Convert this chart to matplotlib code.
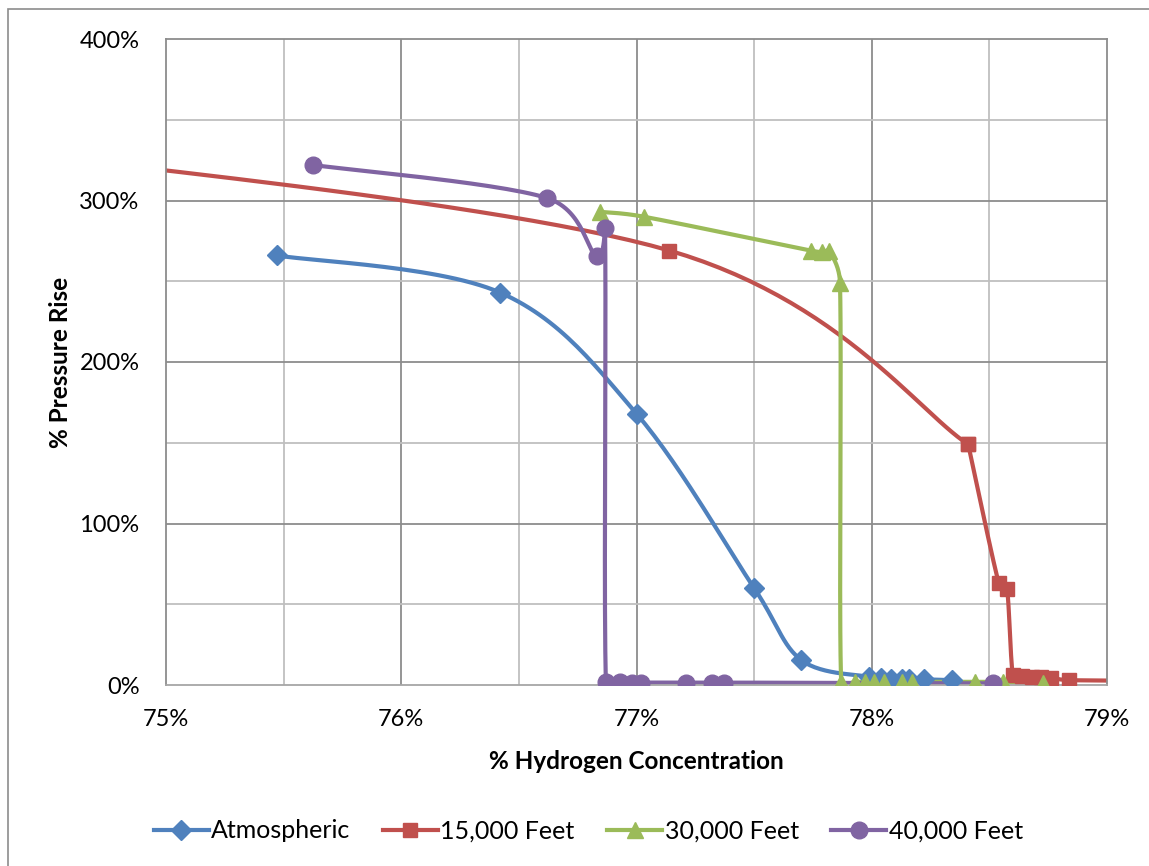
import numpy as np
import matplotlib
matplotlib.use("Agg")
import matplotlib.pyplot as plt
from matplotlib.lines import Line2D
from matplotlib.patches import Rectangle

# Data (x = % hydrogen, y = % pressure rise)
atm_x = [75.47, 76.42, 77.00, 77.50, 77.70, 77.99, 78.04, 78.08, 78.13, 78.16, 78.22, 78.34]
atm_y = [266, 243, 168, 60, 15.5, 5, 4.5, 4, 4, 3.5, 3.5, 3]

# two readings overlap at 78.41%
ft15_x = [74.0, 77.14, 78.41, 78.41, 78.54, 78.575, 78.60, 78.64, 78.68, 78.72, 78.76, 78.84, 79.4]
ft15_y = [336, 269, 149, 149, 63, 59.5, 6, 5.5, 5, 5, 4.5, 3, 2.5]

ft30_x = [76.845, 77.03, 77.74, 77.79, 77.82, 77.865, 77.87, 77.93, 77.97, 78.01, 78.05,
          78.13, 78.17, 78.44, 78.56, 78.73]
ft30_y = [293, 290, 269, 268, 268.5, 249, 2, 2, 2, 2, 2, 2, 2, 2, 2, 1.5]

ft40_x = [75.625, 76.62, 76.83, 76.866, 76.87, 76.93, 76.98, 77.02, 77.21, 77.32, 77.37, 78.515]
ft40_y = [322, 301.5, 265.5, 283, 2, 2, 1.5, 1.5, 1.5, 1.5, 1.5, 1]

series = [
    ("Atmospheric", atm_x, atm_y, "#4F81BD", "D", 10),
    ("15,000 Feet", ft15_x, ft15_y, "#C0504D", "s", 10.5),
    ("30,000 Feet", ft30_x, ft30_y, "#9BBB59", "^", 12),
    ("40,000 Feet", ft40_x, ft40_y, "#8064A2", "o", 12),
]

# rough pixel scale of the plot area, so the smoothing works in screen space
SX, SY = 235.25, 1.615


def smooth(xs, ys, n=30):
    # Smoothed line like Excel: Catmull-Rom Bezier, control arms capped at half a segment
    p = np.column_stack([(np.array(xs) - 75) * SX, np.array(ys) * SY])
    m = len(p)
    out = []
    t = np.linspace(0, 1, n)[:, None]
    for i in range(m - 1):
        p0 = p[i - 1] if i > 0 else p[i]
        p1, p2 = p[i], p[i + 1]
        p3 = p[i + 2] if i + 2 < m else p[i + 1]
        d12 = np.hypot(*(p2 - p1))
        a1 = (p2 - p0) / 6.0
        a2 = (p3 - p1) / 6.0
        for a in (a1, a2):
            L = np.hypot(*a)
            if L > d12 / 2 and L > 0:
                a *= (d12 / 2) / L
        c1 = p1 + a1
        c2 = p2 - a2
        seg = ((1 - t) ** 3) * p1 + 3 * ((1 - t) ** 2) * t * c1 + 3 * (1 - t) * t ** 2 * c2 + t ** 3 * p2
        out.append(seg)
    seg = np.vstack(out)
    return seg[:, 0] / SX + 75, seg[:, 1] / SY


plt.rcParams["font.family"] = ["Lato", "DejaVu Sans"]

fig = plt.figure(figsize=(11.49, 8.66), dpi=100)
fig.patches.append(Rectangle((8 / 1149, -0.1), 1.2, 1 - 9 / 866 + 0.1, transform=fig.transFigure,
                             fill=False, edgecolor="#8C8C8C", linewidth=1.2))
ax = fig.add_axes([166 / 1149, 1 - 685 / 866, (1107 - 166) / 1149, (685 - 39) / 866])

ax.set_xlim(75, 79)
ax.set_ylim(0, 400)

for v in [75.5, 76.5, 77.5, 78.5]:
    ax.axvline(v, color="#BFBFBF", linewidth=1.3, zorder=0)
for v in [76, 77, 78]:
    ax.axvline(v, color="#8C8C8C", linewidth=1.3, zorder=0)
for v in [50, 150, 250, 350]:
    ax.axhline(v, color="#BFBFBF", linewidth=1.3, zorder=0)
for v in [100, 200, 300]:
    ax.axhline(v, color="#8C8C8C", linewidth=1.3, zorder=0)

for side in ["left", "right", "top", "bottom"]:
    ax.spines[side].set_color("#8C8C8C")
    ax.spines[side].set_linewidth(1.3)
ax.spines["bottom"].set_color("#A6A6A6")

handles = []
for name, xs, ys, color, mk, ms in series:
    sx, sy = smooth(xs, ys)
    ax.plot(sx, sy, color=color, linewidth=3.0, solid_capstyle="round", zorder=2)
    ax.plot(xs, ys, linestyle="none", marker=mk, markersize=ms, color=color,
            markeredgecolor=color, zorder=3)
    handles.append(Line2D([0], [0], color=color, linewidth=3.0, marker=mk, markersize=ms,
                          markeredgecolor=color))

ax.set_xticks([75, 76, 77, 78, 79])
ax.set_xticklabels(["75%", "76%", "77%", "78%", "79%"])
ax.set_yticks([0, 100, 200, 300, 400])
ax.set_yticklabels(["0%", "100%", "200%", "300%", "400%"])
ax.tick_params(axis="both", length=0, labelsize=17, colors="black")
ax.tick_params(axis="x", pad=17)
ax.tick_params(axis="y", pad=19)

ax.set_xlabel("% Hydrogen Concentration", fontsize=17.5, fontweight="bold", labelpad=15)
ax.set_ylabel("% Pressure Rise", fontsize=17.5, fontweight="bold", labelpad=5)

fig.legend(handles, [s[0] for s in series], loc="center", bbox_to_anchor=(0.512, 1 - 831 / 866),
           ncol=4, frameon=False, fontsize=18, handlelength=2.2, handletextpad=0.1,
           columnspacing=1.3)

fig.savefig("out.png", dpi=100)
